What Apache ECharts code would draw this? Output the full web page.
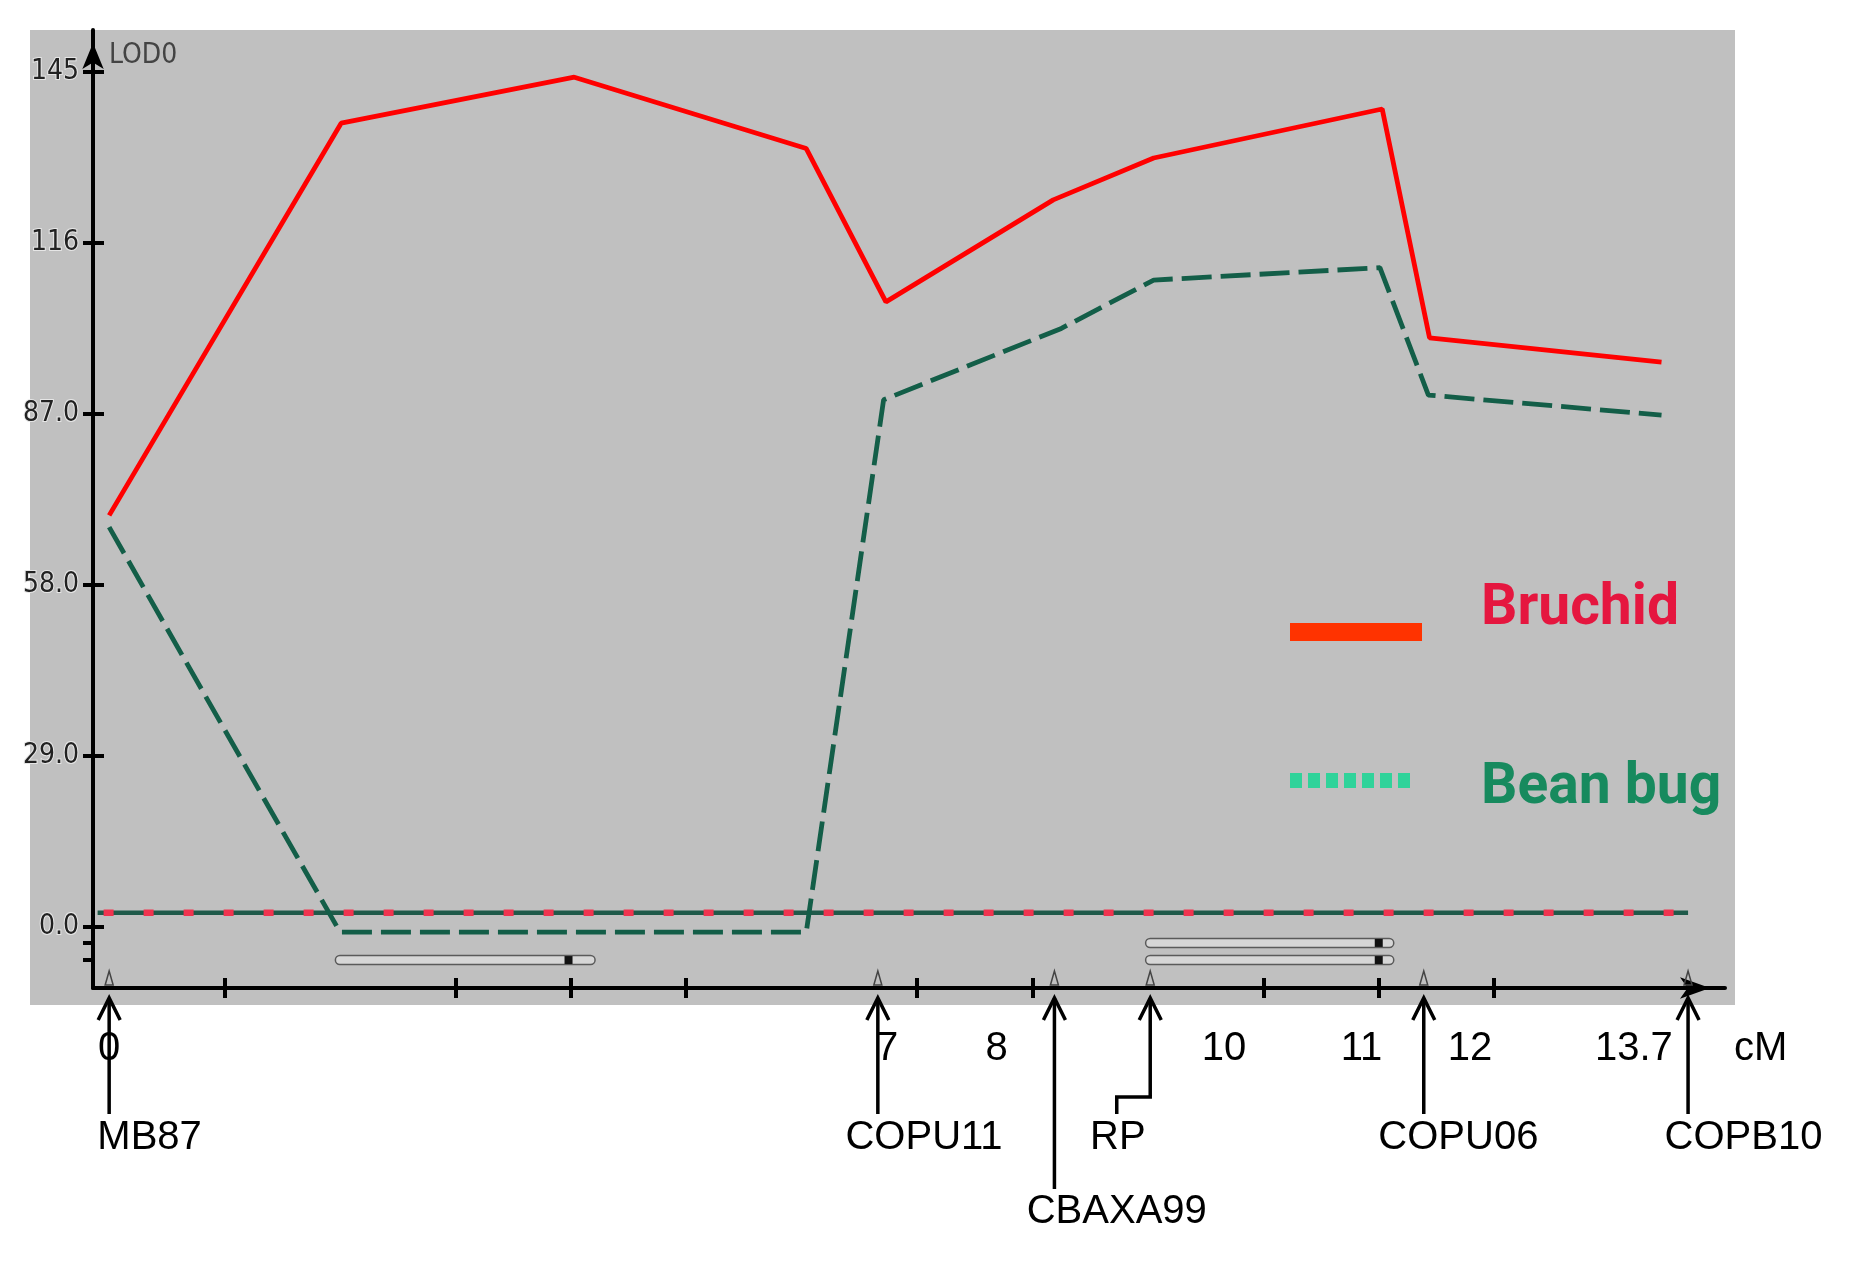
<!DOCTYPE html>
<html>
<head>
<meta charset="utf-8">
<title>LOD profile - Bruchid / Bean bug</title>
<script src="https://cdn.jsdelivr.net/npm/echarts@6/dist/echarts.min.js"></script>
<style>
  html, body { margin: 0; padding: 0; background: #fff; }
  #chart { width: 1859px; height: 1261px; }
</style>
</head>
<body>
<div id="chart"></div>
<script>
// position along the map (tick grid units, 0 = MB87) and LOD values
const bruchidX = [0, 2.01, 4.03, 6.04, 6.73, 8.18, 9.05, 11.03, 11.44, 13.45];
const bruchidLod = [69.8, 136.3, 144.1, 132.0, 106.0, 123.3, 130.4, 138.7, 99.9, 95.8];
const beanBugX = [0, 2.0, 6.04, 6.71, 8.25, 9.05, 11.01, 11.43, 13.45];
const beanBugLod = [67.8, -0.85, -0.85, 89.4, 101.5, 109.7, 111.8, 90.2, 86.8];

// significance threshold
const thresholdX = [-0.1, 13.68];
const thresholdLod = 2.4;

// support intervals under the curves
const intervalStart = [1.96, 8.98, 8.98];
const intervalEnd = [4.21, 11.13, 11.13];
const intervalPeak = [3.98, 11.0, 11.0];
const intervalLod = [-5.6, -2.7, -5.6];

// markers
const markerNames = ['MB87', 'COPU11', 'CBAXA99', 'RP', 'COPU06', 'COPB10'];
const markerPos = [0, 6.66, 8.19, 9.02, 11.39, 13.68];
const markerLeaderPos = [0, 6.66, 8.19, 8.73, 11.39, 13.68];
const markerLabelPos = [0.35, 7.06, 8.73, 8.74, 11.69, 14.16];

// cM scale written under the axis
const cmLabels = ['0', '7', '8', '10', '11', '12', '13.7', 'cM'];
const cmLabelPos = [0, 6.74, 7.69, 9.66, 10.85, 11.79, 13.21, 14.31];

const yTicks = [0, 29, 58, 87, 116, 145];
const yExtraTicks = [-5.6, -2.7];
const xTicks = [1, 3, 4, 5, 7, 8, 10, 11, 12];

const X_MIN = -0.14, X_MAX = 14.0;
const Y_MIN = -10.34, Y_MAX = 152.1;

// which marker names sit on the second (lower) row
const lowerRow = { CBAXA99: true };

const NARROW = '"Liberation Sans Narrow", "DejaVu Sans Condensed", sans-serif';
const SANS = '"Liberation Sans", Arial, sans-serif';

// legend icons drawn in a 132x62 box so the mark sits off the text centre
const bruchidIcon = 'path://M0,0M132,62M0,44h132v18h-132Z';
let beanIcon = 'path://M0,0M132,62';
for (let k = 0; k < 7; k++) {
  beanIcon += 'M' + (k * 18) + ',15h12v15h-12Z';
}

const chart = echarts.init(document.getElementById('chart'));

function renderInterval(params, api) {
  const p0 = api.coord([api.value(0), api.value(3)]);
  const p1 = api.coord([api.value(1), api.value(3)]);
  const pk = api.coord([api.value(2), api.value(3)]);
  const h = 9;
  return {
    type: 'group',
    children: [
      {
        type: 'rect',
        shape: { x: p0[0], y: p0[1] - h / 2, width: p1[0] - p0[0], height: h, r: h / 2 },
        style: { fill: '#d6d6d6', stroke: '#5a5a5a', lineWidth: 1.5 }
      },
      {
        type: 'rect',
        shape: { x: pk[0] - 4, y: pk[1] - 4, width: 8, height: 8 },
        style: { fill: '#111' }
      }
    ]
  };
}

function renderMarker(params, api) {
  const i = params.dataIndex;
  const base = api.coord([api.value(0), Y_MIN]);
  const x = base[0];
  const axisY = base[1];
  const lx = api.coord([api.value(1), Y_MIN])[0];
  const tx = api.coord([api.value(2), Y_MIN])[0];
  const low = lowerRow[markerNames[i]];
  const tipY = axisY + 10;
  const endY = axisY + (low ? 201 : 126);
  const bendY = Math.abs(x - lx) < 1 ? endY : axisY + 109;
  const textY = axisY + (low ? 224 : 150);
  const line = { stroke: '#000', lineWidth: 3.5, fill: null };
  return {
    type: 'group',
    children: [
      {
        type: 'polygon',
        shape: { points: [[x - 4, axisY - 3], [x, axisY - 17], [x + 4, axisY - 3]] },
        style: { fill: null, stroke: '#444', lineWidth: 1.5 }
      },
      {
        type: 'polyline',
        shape: { points: [[x, tipY], [x, bendY], [lx, bendY], [lx, endY]] },
        style: line
      },
      {
        type: 'polyline',
        shape: { points: [[x - 11, tipY + 22], [x, tipY], [x + 11, tipY + 22]] },
        style: line
      },
      {
        type: 'text',
        style: {
          text: markerNames[i], x: tx, y: textY,
          font: '40px ' + SANS, fill: '#000', align: 'center', verticalAlign: 'middle'
        }
      }
    ]
  };
}

function renderCmLabel(params, api) {
  const p = api.coord([api.value(0), Y_MIN]);
  return {
    type: 'text',
    style: {
      text: cmLabels[params.dataIndex], x: p[0], y: p[1] + 61,
      font: '40px ' + SANS, fill: '#000', align: 'center', verticalAlign: 'middle'
    }
  };
}

chart.setOption({
  backgroundColor: '#fff',
  animation: false,
  graphic: {
    elements: [
      {
        type: 'rect', z: -10,
        shape: { x: 30, y: 30, width: 1705, height: 975 },
        style: { fill: '#c0c0c0' }
      }
    ]
  },
  grid: { left: 93, right: 134, top: 30, bottom: 273, containLabel: false },
  legend: {
    orient: 'vertical',
    left: 1285,
    top: 574,
    itemWidth: 132,
    itemHeight: 62,
    itemGap: 117,
    selectedMode: false,
    textStyle: { fontFamily: 'Roboto, "Liberation Sans", sans-serif', fontWeight: 'bold', fontSize: 57, lineHeight: 62 },
    data: [
      {
        name: 'Bruchid', icon: bruchidIcon,
        itemStyle: { color: '#ff3300', borderWidth: 0 },
        textStyle: { color: '#e5163f', padding: [0, 0, 0, 54] }
      },
      {
        name: 'Bean bug', icon: beanIcon,
        itemStyle: { color: '#2fd39a', borderWidth: 0 },
        textStyle: { color: '#178a5e', padding: [0, 0, 0, 54] }
      }
    ]
  },
  xAxis: [
    {
      type: 'value', min: X_MIN, max: X_MAX, position: 'bottom',
      axisLine: {
        show: true, onZero: false,
        symbol: ['none', 'arrow'], symbolSize: [16, 30], symbolOffset: [0, -15],
        lineStyle: { color: '#000', width: 4 }
      },
      axisTick: { show: true, length: 10, customValues: xTicks, lineStyle: { color: '#000', width: 4 } },
      axisLabel: { show: false },
      splitLine: { show: false }
    },
    {
      type: 'value', min: X_MIN, max: X_MAX, position: 'bottom',
      axisLine: { show: false, onZero: false },
      axisTick: { show: true, inside: true, length: 10, customValues: xTicks, lineStyle: { color: '#000', width: 4 } },
      axisLabel: { show: false },
      splitLine: { show: false }
    }
  ],
  yAxis: [
    {
      type: 'value', min: Y_MIN, max: Y_MAX, position: 'left',
      name: 'LOD0',
      nameLocation: 'end',
      nameGap: 0,
      nameTextStyle: {
        fontFamily: NARROW, fontSize: 28, color: '#444',
        align: 'left', verticalAlign: 'top', padding: [12, 0, 0, 16]
      },
      axisLine: {
        show: true, onZero: false,
        symbol: ['none', 'arrow'], symbolSize: [16, 26], symbolOffset: [0, -13],
        lineStyle: { color: '#000', width: 4 }
      },
      axisTick: {
        show: true, length: 10,
        customValues: yExtraTicks.concat(yTicks),
        lineStyle: { color: '#000', width: 4 }
      },
      axisLabel: {
        show: true, margin: 14,
        customValues: yTicks,
        fontFamily: NARROW, fontSize: 28, color: '#222',
        textBorderColor: '#e6e6e6', textBorderWidth: 2,
        formatter: (v) => (v >= 100 ? String(v) : v.toFixed(1))
      },
      splitLine: { show: false }
    },
    {
      type: 'value', min: Y_MIN, max: Y_MAX, position: 'left',
      axisLine: { show: false, onZero: false },
      axisTick: { show: true, inside: true, length: 11, customValues: yTicks, lineStyle: { color: '#000', width: 4 } },
      axisLabel: { show: false },
      splitLine: { show: false }
    }
  ],
  series: [
    {
      name: 'threshold-green',
      type: 'line',
      data: thresholdX.map((x) => [x, thresholdLod]),
      symbol: 'none',
      silent: true,
      lineStyle: { color: '#1f5a4a', width: 4.5 },
      z: 3
    },
    {
      name: 'threshold-red',
      type: 'line',
      data: thresholdX.map((x) => [x, thresholdLod]),
      symbol: 'none',
      silent: true,
      lineStyle: { color: '#f0344f', width: 6.5, type: [10, 30], dashOffset: -6 },
      z: 3
    },
    {
      name: 'Bruchid',
      type: 'line',
      data: bruchidX.map((x, i) => [x, bruchidLod[i]]),
      symbol: 'none',
      lineStyle: { color: '#ff0000', width: 4.8 },
      itemStyle: { color: '#ff0000' },
      z: 4
    },
    {
      name: 'Bean bug',
      type: 'line',
      data: beanBugX.map((x, i) => [x, beanBugLod[i]]),
      symbol: 'none',
      lineStyle: { color: '#135e48', width: 4.8, type: [30, 9] },
      itemStyle: { color: '#135e48' },
      z: 4
    },
    {
      name: 'intervals',
      type: 'custom',
      clip: false,
      silent: true,
      renderItem: renderInterval,
      data: intervalStart.map((s, i) => [s, intervalEnd[i], intervalPeak[i], intervalLod[i]]),
      encode: { x: [0, 1, 2], y: 3 },
      z: 5
    },
    {
      name: 'markers',
      type: 'custom',
      clip: false,
      silent: true,
      renderItem: renderMarker,
      data: markerPos.map((x, i) => [x, markerLeaderPos[i], markerLabelPos[i]]),
      encode: { x: [0, 1, 2] },
      z: 6
    },
    {
      name: 'cm-scale',
      type: 'custom',
      clip: false,
      silent: true,
      renderItem: renderCmLabel,
      data: cmLabelPos.map((x) => [x]),
      encode: { x: 0 },
      z: 6
    }
  ]
});
</script>
</body>
</html>
